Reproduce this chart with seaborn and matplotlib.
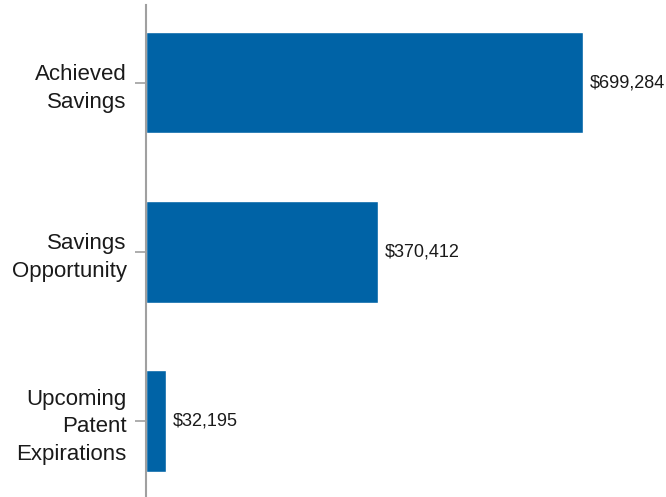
import matplotlib
matplotlib.use("Agg")
import matplotlib.pyplot as plt
import seaborn as sns
import pandas as pd

categories = ["Achieved\nSavings", "Savings\nOpportunity", "Upcoming\nPatent\nExpirations"]
values = [699284, 370412, 32195]

sns.set_style("white")
plt.rcParams["font.family"] = ["Liberation Sans", "DejaVu Sans"]

df = pd.DataFrame({"category": categories, "value": values})

fig = plt.figure(figsize=(6.66, 4.97), dpi=100)
ax = fig.add_axes([146 / 666, 0.0, 1 - 146 / 666, 1 - 5 / 497])

sns.barplot(data=df, x="value", y="category", orient="h", color="#0063a6",
            saturation=1, width=0.6, ax=ax)

ax.set_xlim(0, 832000)
ax.set_ylim(2.45, -0.46)

for container in ax.containers:
    ax.bar_label(container, labels=[f"${v:,.0f}" for v in values],
                 padding=5, fontsize=13, color="#1a1a1a")

ax.set_xlabel("")
ax.set_ylabel("")
ax.set_xticks([])
for side in ["top", "right", "bottom"]:
    ax.spines[side].set_visible(False)
ax.spines["left"].set_color("#a0a0a0")
ax.spines["left"].set_linewidth(1.5)
ax.tick_params(axis="y", length=8, width=1.2, color="#a0a0a0", pad=6,
               labelsize=16, labelcolor="#1a1a1a", left=True)
for lbl in ax.get_yticklabels():
    lbl.set_horizontalalignment("right")
    lbl.set_multialignment("right")
    lbl.set_linespacing(1.4)

fig.savefig("out.png", dpi=100)
